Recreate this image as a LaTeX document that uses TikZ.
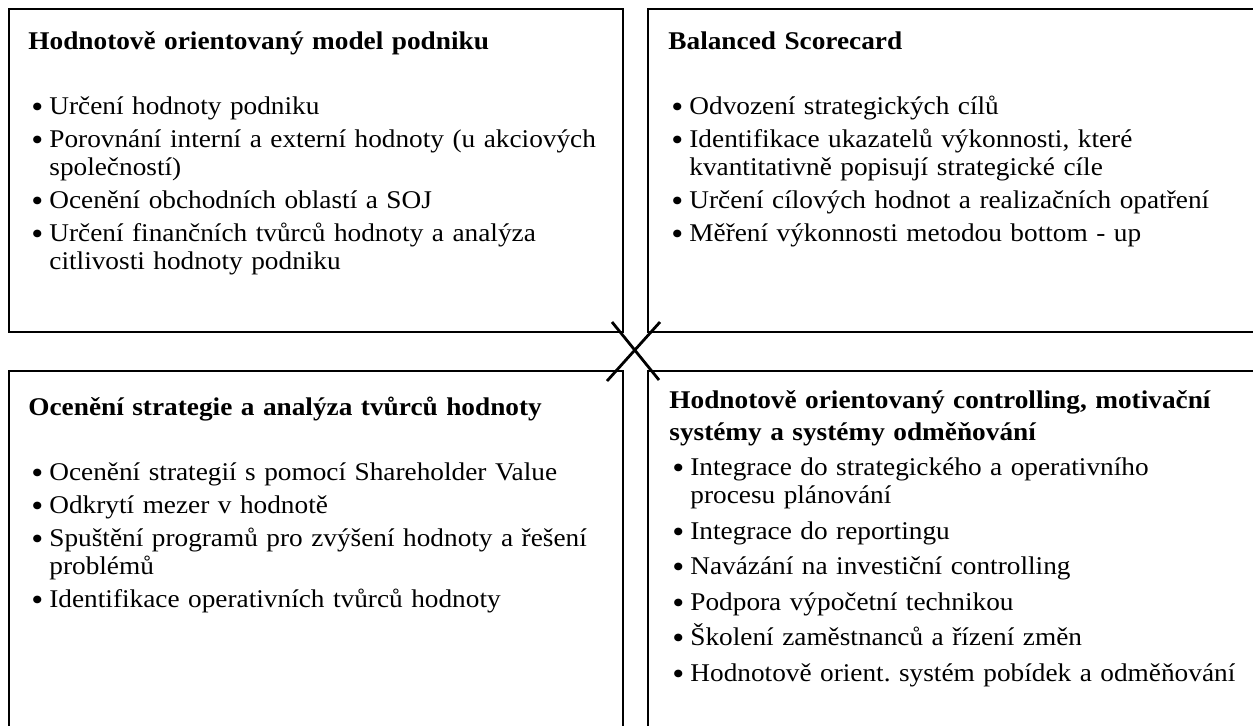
\documentclass[tikz,border=0pt]{standalone}
\usepackage{fontspec}
\usepackage{graphicx}
\setmainfont{Liberation Serif}[FakeStretch=1.07]
\usetikzlibrary{positioning}
\newlength{\itemgap}
\setlength{\itemgap}{2.5pt}
% bullet line with hanging indent
\newcommand{\bul}[1]{\par\vspace{\itemgap}\hangindent=10.5pt\hangafter=1\noindent\hspace*{1.5pt}\makebox[9pt][l]{\raisebox{-1.6pt}{\scalebox{1.25}{\textbullet}}}#1}
\newcommand{\boxtitle}[1]{{\bfseries #1}\par\vspace{16pt}}
\tikzset{
    frame/.style = {draw=black, line width=1pt},
    crossline/.style = {draw=black, line width=1.4pt},
    boxtext/.style = {anchor=base west, inner sep=0pt, text width=290pt, align=left, font=\fontsize{12.75}{14}\selectfont\frenchspacing},
    brtext/.style = {boxtext, text width=288.5pt},
}
\begin{document}
\begin{tikzpicture}[x=0.5pt,y=-0.5pt]
\clip (0,0) rectangle (1253,725);
\fill[white] (0,0) rectangle (1253,725);
%
\draw[frame] (9,9) rectangle (623,332);
\draw[frame] (648,9) rectangle (1262,332);
\draw[frame] (9,371) rectangle (623,745);
\draw[frame] (648,371) rectangle (1262,745);
%
\coordinate (x1) at (612,322);
\coordinate (x2) at (659,380);
\coordinate (x3) at (660,322);
\coordinate (x4) at (607,381);
\draw[crossline] (x1) -- (x2);
\draw[crossline] (x3) -- (x4);
%
\node[boxtext] (tl) at (28,49) {\boxtitle{Hodnotově orientovaný model podniku}
\bul{Určení hodnoty podniku}
\bul{Porovnání interní a externí hodnoty (u akciových\newline společností)}
\bul{Ocenění obchodních oblastí a SOJ}
\bul{Určení finančních tvůrců hodnoty a analýza\newline citlivosti hodnoty podniku}\par};
\node[boxtext] (tr) at (668,49) {\boxtitle{Balanced Scorecard}
\bul{Odvození strategických cílů}
\bul{Identifikace ukazatelů výkonnosti, které\newline kvantitativně popisují strategické cíle}
\bul{Určení cílových hodnot a realizačních opatření}
\bul{Měření výkonnosti metodou bottom - up}\par};
\node[boxtext] (bl) at (28,415) {\boxtitle{Ocenění strategie a analýza tvůrců hodnoty}
\bul{Ocenění strategií s pomocí Shareholder Value}
\bul{Odkrytí mezer v hodnotě}
\bul{Spuštění programů pro zvýšení hodnoty a řešení\newline problémů}
\bul{Identifikace operativních tvůrců hodnoty}\par};
\node[brtext] (br) at (669,408) {\setlength{\itemgap}{3.75pt}%
{\bfseries\makebox[288.5pt][s]{Hodnotově orientovaný controlling, motivační}\\[2pt] systémy a systémy odměňování}
\bul{Integrace do strategického a operativního\newline procesu plánování}
\bul{Integrace do reportingu}
\bul{Navázání na investiční controlling}
\bul{Podpora výpočetní technikou}
\bul{Školení zaměstnanců a řízení změn}
\bul{Hodnotově orient. systém pobídek a odměňování}\par};
\end{tikzpicture}
\end{document}
